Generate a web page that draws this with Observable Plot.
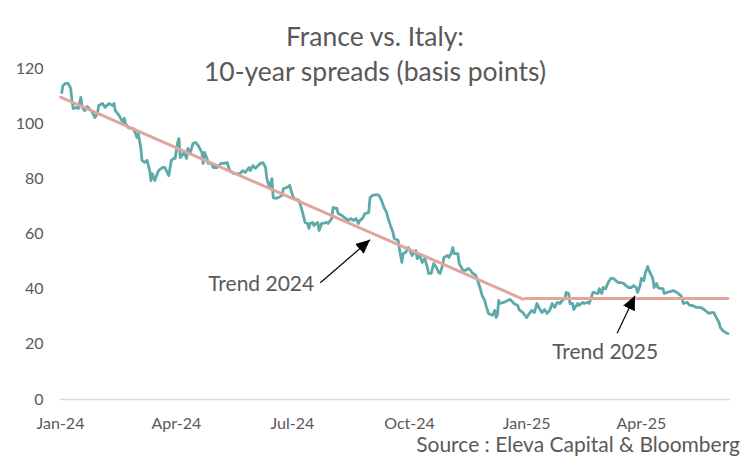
<!DOCTYPE html>
<html>
<head>
<meta charset="utf-8">
<script src="https://cdn.jsdelivr.net/npm/d3@7"></script>
<script src="https://cdn.jsdelivr.net/npm/@observablehq/plot@0.6"></script>
<style>
  html, body { margin: 0; padding: 0; background: #fff; }
  #wrap { position: relative; width: 750px; height: 465px; font-family: Lato, "Open Sans", sans-serif; color: #595959; }
  #title { position: absolute; top: 19px; left: 0; width: 750px; text-align: center; font-size: 26.5px; line-height: 35px; color: #595959; }
  #source { position: absolute; right: 10px; top: 434px; font-size: 21px; line-height: 20px; color: #595959; }
  #chart { position: absolute; left: 0; top: 0; }
</style>
</head>
<body>
<div id="wrap">
  <div id="chart"></div>
  <div id="title">France vs. Italy:<br>10-year spreads (basis points)</div>
  <div id="source">Source : Eleva Capital &amp; Bloomberg</div>
</div>
<script>
// ---- Data ----
const spreadDates = [
"2024-01-02","2024-01-03","2024-01-05","2024-01-07","2024-01-09","2024-01-10","2024-01-11","2024-01-14","2024-01-15","2024-01-17",
"2024-01-18","2024-01-20","2024-01-22","2024-01-25","2024-01-26","2024-01-28","2024-01-30","2024-01-31","2024-02-03","2024-02-05",
"2024-02-08","2024-02-11","2024-02-12","2024-02-13","2024-02-16","2024-02-19","2024-02-20","2024-02-21","2024-02-23","2024-02-25",
"2024-02-27","2024-02-29","2024-03-01","2024-03-02","2024-03-04","2024-03-05","2024-03-07","2024-03-09","2024-03-11","2024-03-12",
"2024-03-13","2024-03-15","2024-03-17","2024-03-18","2024-03-21","2024-03-23","2024-03-26","2024-03-28","2024-03-30","2024-03-31",
"2024-04-02","2024-04-03","2024-04-04","2024-04-07","2024-04-09","2024-04-10","2024-04-12","2024-04-14","2024-04-16","2024-04-18",
"2024-04-21","2024-04-22","2024-04-23","2024-04-25","2024-04-26","2024-04-28","2024-04-30","2024-05-03","2024-05-06","2024-05-08",
"2024-05-11","2024-05-12","2024-05-13","2024-05-16","2024-05-19","2024-05-21","2024-05-23","2024-05-25","2024-05-28","2024-05-29",
"2024-05-31","2024-06-02","2024-06-04","2024-06-06","2024-06-08","2024-06-10","2024-06-11","2024-06-13","2024-06-15","2024-06-16",
"2024-06-18","2024-06-20","2024-06-23","2024-06-24","2024-06-27","2024-06-29","2024-06-30","2024-07-02","2024-07-06","2024-07-07",
"2024-07-09","2024-07-11","2024-07-13","2024-07-14","2024-07-15","2024-07-17","2024-07-18","2024-07-21","2024-07-22","2024-07-24",
"2024-07-25","2024-07-28","2024-07-29","2024-08-01","2024-08-02","2024-08-05","2024-08-06","2024-08-09","2024-08-12","2024-08-14",
"2024-08-16","2024-08-18","2024-08-20","2024-08-22","2024-08-23","2024-08-25","2024-08-27","2024-08-30","2024-08-31","2024-09-02",
"2024-09-05","2024-09-07","2024-09-09","2024-09-11","2024-09-13","2024-09-14","2024-09-16","2024-09-18","2024-09-19","2024-09-22",
"2024-09-23","2024-09-25","2024-09-26","2024-09-28","2024-09-30","2024-10-02","2024-10-03","2024-10-06","2024-10-07","2024-10-09",
"2024-10-11","2024-10-13","2024-10-15","2024-10-16","2024-10-18","2024-10-20","2024-10-22","2024-10-24","2024-10-25","2024-10-27",
"2024-10-28","2024-10-31","2024-11-01","2024-11-03","2024-11-04","2024-11-05","2024-11-08","2024-11-09","2024-11-12","2024-11-14",
"2024-11-16","2024-11-18","2024-11-19","2024-11-22","2024-11-24","2024-11-26","2024-11-27","2024-11-29","2024-11-30","2024-12-02",
"2024-12-05","2024-12-07","2024-12-08","2024-12-09","2024-12-10","2024-12-11","2024-12-14","2024-12-17","2024-12-19","2024-12-22",
"2024-12-25","2024-12-26","2024-12-29","2025-01-01","2025-01-02","2025-01-05","2025-01-07","2025-01-09","2025-01-11","2025-01-13",
"2025-01-15","2025-01-17","2025-01-19","2025-01-21","2025-01-23","2025-01-25","2025-01-27","2025-01-29","2025-01-31","2025-02-01",
"2025-02-03","2025-02-04","2025-02-06","2025-02-07","2025-02-10","2025-02-11","2025-02-14","2025-02-15","2025-02-18","2025-02-19",
"2025-02-22","2025-02-23","2025-02-26","2025-02-27","2025-03-01","2025-03-02","2025-03-04","2025-03-06","2025-03-08","2025-03-10",
"2025-03-12","2025-03-14","2025-03-16","2025-03-18","2025-03-20","2025-03-22","2025-03-24","2025-03-26","2025-03-28","2025-03-29",
"2025-03-31","2025-04-01","2025-04-03","2025-04-04","2025-04-06","2025-04-07","2025-04-10","2025-04-11","2025-04-13","2025-04-14",
"2025-04-16","2025-04-18","2025-04-19","2025-04-21","2025-04-24","2025-04-26","2025-04-29","2025-04-30","2025-05-02","2025-05-03",
"2025-05-04","2025-05-07","2025-05-09","2025-05-11","2025-05-14","2025-05-17","2025-05-19","2025-05-21","2025-05-24","2025-05-26",
"2025-05-28","2025-05-29","2025-06-01","2025-06-02","2025-06-04","2025-06-06","2025-06-08"
];
const spreadValues = [
111.3,113.9,114.6,114.6,112.8,108.4,105.5,105.9,105.5,109.5,
105.9,104.7,106.2,104.7,104.1,102.2,103.7,106.6,107.3,105.9,
107.3,106.6,107.3,104.7,103.0,100.4,101.9,100.1,98.6,98.3,
98.3,96.4,95.0,96.4,91.4,86.7,85.9,86.7,83.0,79.4,
81.9,79.4,81.9,83.0,84.1,84.1,81.2,86.7,87.4,87.4,
93.2,94.6,87.7,89.6,87.4,91.0,89.6,92.8,93.2,92.1,
89.6,85.6,89.6,87.4,85.6,85.9,84.1,84.1,85.6,85.6,
85.9,84.1,83.0,81.9,81.9,81.9,83.0,82.3,84.1,83.0,
84.8,83.8,84.8,85.6,85.9,84.1,80.1,76.9,80.1,73.2,
72.9,73.2,74.0,76.5,76.9,77.6,75.8,72.9,72.2,71.1,
67.8,64.2,63.8,62.0,63.8,64.2,63.1,64.2,61.3,63.8,
63.8,64.2,63.8,65.6,69.6,69.3,67.4,66.7,65.6,64.9,
65.6,64.9,65.6,63.8,64.9,65.6,67.4,67.8,73.2,74.0,
74.3,74.0,72.2,69.6,67.8,66.0,63.1,60.6,58.4,57.7,
54.8,49.7,52.9,53.3,55.1,53.3,52.2,54.0,51.1,52.2,
49.7,51.1,47.9,45.7,45.7,49.3,47.9,46.0,45.7,48.6,
51.5,52.2,51.5,53.3,55.1,52.9,52.9,49.3,46.8,46.8,
47.5,46.8,46.0,45.0,42.4,39.5,37.7,35.9,34.1,31.2,
30.5,32.3,29.7,30.5,35.9,34.8,35.2,35.9,36.3,34.8,
34.1,32.6,31.5,29.7,30.5,32.3,31.5,34.8,33.0,31.5,
32.6,31.2,32.3,34.8,33.4,35.2,34.8,35.9,36.6,38.8,
38.4,34.8,34.8,32.6,34.8,34.1,35.2,34.8,35.2,34.8,
38.8,38.8,38.4,40.2,38.4,40.6,40.2,42.4,43.9,43.9,
43.1,42.4,42.4,42.1,41.3,40.6,40.6,41.3,40.6,38.8,
41.3,43.9,43.1,45.7,48.2,46.8,43.9,40.6,42.1,40.6,
40.2,40.2,38.4,38.8,39.2,39.5,38.8,38.4,37.7,36.6,
34.8,35.2,34.1,34.1,33.4,33.4,33.0,32.3,31.2,31.5,
31.5,30.5,27.9,26.1,25.0,24.3,23.9
];

const trend2024Dates = ["2024-01-01", "2024-12-29"];
const trend2024Values = [109.6, 36.4];
const trend2025Dates = ["2024-12-31", "2025-06-08"];
const trend2025Values = [36.6, 36.6];

const yTicks = [0, 20, 40, 60, 80, 100, 120];
const xTicks = ["2024-01-01","2024-04-01","2024-07-01","2024-10-01","2025-01-01","2025-04-01"];
const xDomain = ["2024-01-01", "2025-06-10"];

const annotLabels = ["Trend 2024", "Trend 2025"];
const annotLabelDates = ["2024-04-26", "2025-01-21"];
const annotLabelValues = [41.7, 17.0];
const arrowFromDates = ["2024-07-23", "2025-03-13"];
const arrowFromValues = [42.3, 24.0];
const arrowToDates = ["2024-08-31", "2025-03-27"];
const arrowToValues = [57.9, 37.6];

// ---- Build tables ----
const parse = d3.utcParse("%Y-%m-%d");
const series = spreadDates.map((d, i) => ({date: parse(d), value: spreadValues[i]}));
const trend2024 = trend2024Dates.map((d, i) => ({date: parse(d), value: trend2024Values[i]}));
const trend2025 = trend2025Dates.map((d, i) => ({date: parse(d), value: trend2025Values[i]}));
const labels = annotLabels.map((t, i) => ({text: t, date: parse(annotLabelDates[i]), value: annotLabelValues[i]}));
const arrows = arrowFromDates.map((d, i) => ({x1: parse(d), y1: arrowFromValues[i], x2: parse(arrowToDates[i]), y2: arrowToValues[i]}));

const fmt = d3.utcFormat("%b-%y");

const chart = Plot.plot({
  width: 750,
  height: 465,
  marginLeft: 60,
  marginRight: 20,
  marginTop: 68,
  marginBottom: 66,
  style: {fontFamily: "Lato, 'Open Sans', sans-serif", color: "#595959", background: "transparent", overflow: "visible"},
  x: {type: "utc", domain: xDomain.map(parse)},
  y: {domain: [0, 120]},
  marks: [
    Plot.ruleY([0], {stroke: "#d9d9d9", strokeWidth: 1.5}),
    Plot.axisY(yTicks, {tickSize: 0, tickPadding: 17, fontSize: 16, fill: "#595959"}),
    Plot.axisX(xTicks.map(parse), {tickSize: 0, tickPadding: 18, fontSize: 16, fill: "#595959", tickFormat: fmt}),
    Plot.line(series, {x: "date", y: "value", stroke: "#5ea9a9", strokeWidth: 2.8, strokeLinejoin: "round"}),
    Plot.line(trend2024, {x: "date", y: "value", stroke: "#e2a59c", strokeWidth: 3}),
    Plot.line(trend2025, {x: "date", y: "value", stroke: "#e2a59c", strokeWidth: 3}),
    Plot.link(arrows, {x1: "x1", y1: "y1", x2: "x2", y2: "y2", stroke: "#000", strokeWidth: 1.2}),
    Plot.text(labels, {x: "date", y: "value", text: "text", textAnchor: "start", fontSize: 21, fill: "#595959"})
  ]
});

// filled arrowheads for the annotation links
const ns = "http://www.w3.org/2000/svg";
const defs = document.createElementNS(ns, "defs");
const marker = document.createElementNS(ns, "marker");
marker.setAttribute("id", "arrowhead");
marker.setAttribute("markerUnits", "userSpaceOnUse");
marker.setAttribute("markerWidth", "16");
marker.setAttribute("markerHeight", "14");
marker.setAttribute("refX", "14");
marker.setAttribute("refY", "6.5");
marker.setAttribute("orient", "auto");
const head = document.createElementNS(ns, "path");
head.setAttribute("d", "M0,0L14,6.5L0,13Z");
head.setAttribute("fill", "#000");
marker.appendChild(head);
defs.appendChild(marker);
chart.insertBefore(defs, chart.firstChild);
chart.querySelectorAll('g[aria-label="link"] path, g[aria-label="link"] line').forEach(p => p.setAttribute("marker-end", "url(#arrowhead)"));

document.getElementById("chart").appendChild(chart);
</script>
</body>
</html>
